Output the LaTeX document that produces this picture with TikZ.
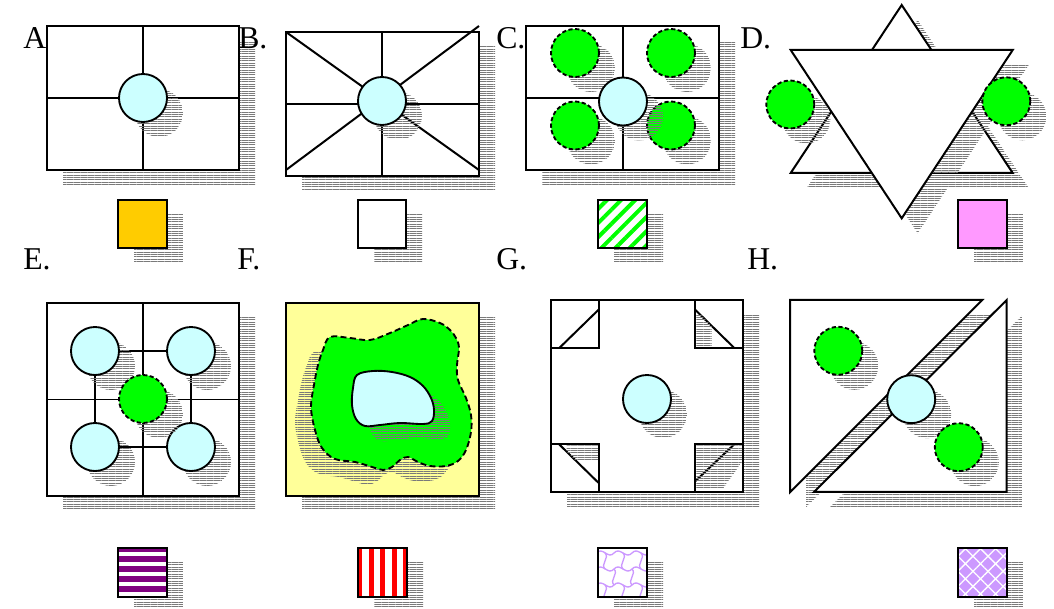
\documentclass[tikz,border=0pt]{standalone}
\usepackage{fontspec}
\setmainfont{Liberation Serif}
\usetikzlibrary{patterns.meta}
\definecolor{cyanlt}{HTML}{CCFFFF}
\definecolor{grn}{HTML}{00FF00}
\definecolor{yellowlt}{HTML}{FFFF99}
\definecolor{orng}{HTML}{FFCC00}
\definecolor{pinkc}{HTML}{FF99FF}
\definecolor{purp}{HTML}{800080}
\definecolor{lav}{HTML}{CC99FF}
\definecolor{hatchgray}{HTML}{7A7A7A}
\newcommand\labfont{\fontsize{23.8}{28}\selectfont}
\begin{document}
\begin{tikzpicture}[x=0.75pt,y=-0.75pt,
  hatch/.style={pattern={Lines[angle=0,distance=1.75pt,line width=0.5pt]},pattern color=hatchgray},
  sh/.style={hatch,shift={(16,15)}},
  shl/.style={hatch,shift={(-16,15)}},
  boxw/.style={draw=black,line width=1.5pt,fill=white},
  bold/.style={draw=black,line width=1.5pt},
  fine/.style={draw=black,line width=0.8pt},
  bdisc/.style={draw=black,line width=1.4pt,fill=cyanlt},
  gdisc/.style={draw=black,line width=1.4pt,fill=grn,dash pattern=on 3.2pt off 1.8pt},
  swatch/.style={draw=black,line width=1.2pt},
  lab/.style={anchor=base west,inner sep=0pt,font=\labfont}]
\useasboundingbox[fill=white] (0,0) rectangle (1054,609);

% ---------------- A ----------------
\path[sh] (47,26) rectangle (239,170);
\path[boxw] (47,26) rectangle (239,170);
\path[bold] (143,26) -- (143,170) (47,98) -- (239,98);
\path[sh] (143,98) circle[radius=18pt];
\path[bdisc] (143,98) circle[radius=18pt];
\path[sh] (118,200) rectangle (167,248);
\path[swatch,fill=orng] (118,200) rectangle (167,248);

% ---------------- B ----------------
\path[sh] (286,32) rectangle (479,176);
\path[boxw] (286,32) rectangle (479,176);
\path[bold] (382,32) -- (382,176);
\path[fine] (286,104) -- (479,104);
\path[bold] (286,32) -- (479,170) (286,170) -- (479,26);
\path[sh] (382,101) circle[radius=18pt];
\path[bdisc] (382,101) circle[radius=18pt];
\path[sh] (358,200) rectangle (406,248);
\path[swatch,fill=white] (358,200) rectangle (406,248);

% ---------------- C ----------------
\path[sh] (526,26) rectangle (719,170);
\path[boxw] (526,26) rectangle (719,170);
\path[bold] (623,26) -- (623,170) (526,98) -- (719,98);
\foreach \cx/\cy in {575/53,671/53,575/125.5,671/125.5}{
  \path[sh] (\cx,\cy) circle[radius=18pt];
  \path[gdisc] (\cx,\cy) circle[radius=18pt];
}
\path[sh] (623,101.5) circle[radius=18pt];
\path[bdisc] (623,101.5) circle[radius=18pt];
\path[sh] (598,200) rectangle (647,248);
\path[fill=white] (598,200) rectangle (647,248);
\path[pattern={Lines[angle=45,distance=7.5pt,line width=3pt]},pattern color=grn] (598,200) rectangle (647,248);
\path[swatch] (598,200) rectangle (647,248);

% ---------------- D ----------------
\path[sh] (901.7,5) -- (790.7,173) -- (1012.7,173) -- cycle;
\path[boxw,line join=miter] (901.7,5) -- (790.7,173) -- (1012.7,173) -- cycle;
\path[sh] (790.7,50) -- (1012.7,50) -- (901.7,218.3) -- cycle;
\path[boxw] (790.7,50) -- (1012.7,50) -- (901.7,218.3) -- cycle;
\path[sh] (790.3,104.5) circle[radius=18pt];
\path[gdisc] (790.3,104.5) circle[radius=18pt];
\path[sh] (1006.3,101.3) circle[radius=18pt];
\path[gdisc] (1006.3,101.3) circle[radius=18pt];
\path[sh] (958,200) rectangle (1007,248);
\path[swatch,fill=pinkc] (958,200) rectangle (1007,248);

% ---------------- E ----------------
\path[sh] (47,303) rectangle (239,496);
\path[boxw] (47,303) rectangle (239,496);
\path[bold] (143,303) -- (143,496);
\path[fine] (47,399.3) -- (239,399.3);
\path[bold] (95,351) rectangle (191,447);
\foreach \cx/\cy in {95/351,191/351,95/447,191/447}{
  \path[sh] (\cx,\cy) circle[radius=18pt];
  \path[bdisc] (\cx,\cy) circle[radius=18pt];
}
\path[sh] (143,399) circle[radius=18pt];
\path[gdisc] (143,399) circle[radius=18pt];
\path[sh] (118,548) rectangle (167,597);
\path[fill=white] (118,548) rectangle (167,597);
\path[pattern={Lines[angle=0,distance=7.5pt,line width=3.8pt]},pattern color=purp] (118,548) rectangle (167,597);
\path[swatch] (118,548) rectangle (167,597);

% ---------------- F ----------------
\path[sh] (286,303) rectangle (479,496);
\path[boxw,fill=yellowlt] (286,303) rectangle (479,496);
\path[shl] plot[smooth cycle,tension=0.6] coordinates {(330,337) (350,338) (370,340) (390,333) (408,325) (423,319) (440,323) (450,330) (456,338) (459,348) (457,365) (458,380) (466,398) (471,415) (471,432) (466,450) (458,461) (446,466) (430,466) (418,462) (408,457) (400,460) (392,467) (383,470) (372,467) (355,462) (335,459) (322,448) (315,430) (311,407) (314,385) (318,365) (323,350)};
\path[draw=black,line width=1.4pt,fill=grn,dash pattern=on 4.5pt off 2.5pt] plot[smooth cycle,tension=0.6] coordinates {(330,337) (350,338) (370,340) (390,333) (408,325) (423,319) (440,323) (450,330) (456,338) (459,348) (457,365) (458,380) (466,398) (471,415) (471,432) (466,450) (458,461) (446,466) (430,466) (418,462) (408,457) (400,460) (392,467) (383,470) (372,467) (355,462) (335,459) (322,448) (315,430) (311,407) (314,385) (318,365) (323,350)};
\path[sh] plot[smooth cycle,tension=0.6] coordinates {(357,375) (373,371) (392,372) (410,377) (423,386) (431,398) (434,410) (432,421) (423,424) (400,423) (380,425) (365,426) (356,419) (352,405) (353,388)};
\path[bdisc] plot[smooth cycle,tension=0.6] coordinates {(357,375) (373,371) (392,372) (410,377) (423,386) (431,398) (434,410) (432,421) (423,424) (400,423) (380,425) (365,426) (356,419) (352,405) (353,388)};
\path[sh] (358,548) rectangle (407,597);
\path[fill=white] (358,548) rectangle (407,597);
\path[pattern={Lines[angle=90,distance=8.7pt,line width=4pt]},pattern color=red] (358,548) rectangle (407,597);
\path[swatch] (358,548) rectangle (407,597);

% ---------------- G ----------------
\path[sh] (551,300) rectangle (743,492);
\path[boxw] (551,300) rectangle (743,492);
\path[bold] (551,300) rectangle (599,348) (695,300) rectangle (743,348)
  (551,444) rectangle (599,492) (695,444) rectangle (743,492);
\path[bold] (559.3,348) -- (599,309.3) (694.7,309.3) -- (734.3,348)
  (559.3,444.5) -- (599,483.3);
\path[hatch] (696,315) -- (701,315) -- (711.7,326) -- (711.7,347) -- (696,347) -- cycle;
\path[hatch] (566.7,445.5) -- (598.3,445.5) -- (598.3,460) -- (575.2,460) -- (566.7,451.7) -- cycle;
\path[bold] (694.7,481.7) -- (734.3,444.3);
\path[hatch] (696,445.5) -- (742,445.5) -- (742,462) -- (722,490) -- (696,490) -- cycle;
\path[sh] (647,399) circle[radius=18pt];
\path[bdisc] (647,399) circle[radius=18pt];
\path[sh] (598,548) rectangle (647,597);
\path[fill=white] (598,548) rectangle (647,597);
\begin{scope}
\clip (598,548) rectangle (647,597);
\foreach \yy in {553,569,585}{
  \draw[lav,line width=1pt] (596,\yy) .. controls (603,\yy-7) and (608,\yy+7) .. (614,\yy)
    .. controls (620,\yy-7) and (626,\yy+7) .. (632,\yy)
    .. controls (638,\yy-7) and (644,\yy+7) .. (650,\yy);
}
\foreach \xx/\yy in {605/553,623/553,641/553,614/569,632/569,605/585,623/585,641/585}{
  \draw[lav,line width=1pt] (\xx,\yy) .. controls (\xx+5,\yy+5) and (\xx-5,\yy+11) .. (\xx,\yy+16);
}
\end{scope}
\path[swatch] (598,548) rectangle (647,597);

% ---------------- H ----------------
\path[sh] (790,300) -- (982.3,300) -- (790,492.3) -- cycle;
\path[sh] (1006.7,300) -- (1006.7,492) -- (814,492) -- cycle;
\path[boxw] (790,300) -- (982.3,300) -- (790,492.3) -- cycle;
\path[boxw] (1006.7,300) -- (1006.7,492) -- (814,492) -- cycle;
\path[sh] (838.3,350.8) circle[radius=18pt];
\path[gdisc] (838.3,350.8) circle[radius=18pt];
\path[sh] (911.2,399.2) circle[radius=18pt];
\path[bdisc] (911.2,399.2) circle[radius=18pt];
\path[sh] (958.8,447.2) circle[radius=18pt];
\path[gdisc] (958.8,447.2) circle[radius=18pt];
\path[sh] (958,548) rectangle (1007,597);
\path[fill=lav] (958,548) rectangle (1007,597);
\path[pattern={Hatch[angle=45,distance=8pt,line width=1pt]},pattern color=white] (958,548) rectangle (1007,597);
\path[swatch] (958,548) rectangle (1007,597);

% ---------------- labels ----------------
\node[lab] (labA) at (23,49) {A};
\node[lab] (labB) at (238,49) {B.};
\node[lab] (labC) at (496,49) {C.};
\node[lab] (labD) at (740,49) {D.};
\node[lab] (labE) at (23,269.5) {E.};
\node[lab] (labF) at (237,269.5) {F.};
\node[lab] (labG) at (496,269.5) {G.};
\node[lab] (labH) at (747,269.5) {H.};
\end{tikzpicture}
\end{document}
